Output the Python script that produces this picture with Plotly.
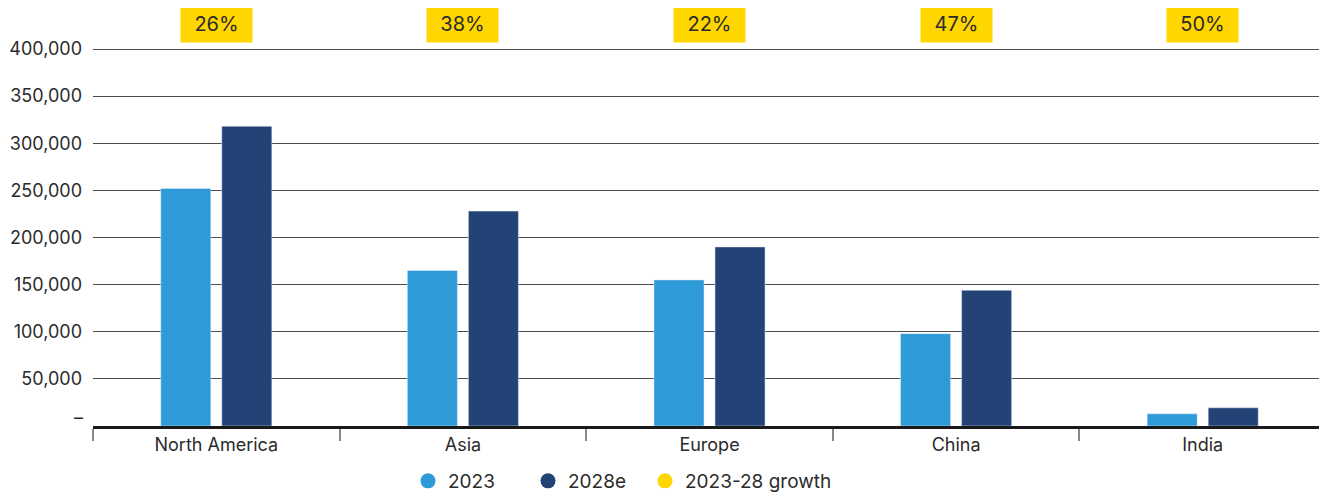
import plotly.graph_objects as go

regions = ["North America", "Asia", "Europe", "China", "India"]
values_2023 = [252000, 165000, 155000, 98000, 12900]
values_2028e = [318000, 228000, 190000, 144000, 19300]
growth_labels = ["26%", "38%", "22%", "47%", "50%"]
y_tick_vals = [50000, 100000, 150000, 200000, 250000, 300000, 350000, 400000]
y_tick_text = ["50,000", "100,000", "150,000", "200,000", "250,000", "300,000", "350,000", "400,000"]

C_LIGHT = "#2E9BD8"
C_DARK = "#234275"
C_YELLOW = "#FFD600"
TXT = "#2b2b2b"
FONT = "Inter"

# page body has an 8px default margin, so the figure is laid out offset by 8px
OFF = 8
W, H = 1327 - OFF, 494 - OFF
PLOT_L = 93 - OFF
PLOT_R = 1326 - OFF
PLOT_T = 46 - OFF
PLOT_B = 426 - OFF
PLOT_W = PLOT_R - PLOT_L
PLOT_H = PLOT_B - PLOT_T
Y_TOP = 400000 * PLOT_H / 377.0

fig = go.Figure()
fig.add_trace(go.Bar(x=regions, y=values_2023, name="2023", marker_color=C_LIGHT,
                     showlegend=False, hoverinfo="skip"))
fig.add_trace(go.Bar(x=regions, y=values_2028e, name="2028e", marker_color=C_DARK,
                     showlegend=False, hoverinfo="skip"))
legend_items = [("2023", C_LIGHT, "legend"), ("2028e", C_DARK, "legend2"),
                ("2023-28 growth", C_YELLOW, "legend3")]
for nm, col, lg in legend_items:
    fig.add_trace(go.Scatter(x=[None], y=[None], mode="markers", name=nm, legend=lg,
                             marker=dict(color=col, size=15, symbol="circle")))

for r, g in zip(regions, growth_labels):
    fig.add_annotation(x=r, xref="x", y=(426 - 24) / PLOT_H, yref="paper", text=g,
                       showarrow=False, xanchor="center", yanchor="middle",
                       bgcolor=C_YELLOW, width=71, height=36, borderpad=0,
                       font=dict(family=FONT, size=20, color=TXT))

fig.add_annotation(x=0, xref="paper", y=0, yref="y", text="–", showarrow=False,
                   xanchor="right", yanchor="middle", xshift=-8, yshift=9,
                   font=dict(family=FONT, size=18, color=TXT))

def legend_cfg(circle_px):
    return dict(orientation="h", x=(circle_px - 22 - 93) / PLOT_W, xanchor="left",
                y=(426 - 481) / PLOT_H, yanchor="middle", bgcolor="rgba(0,0,0,0)",
                font=dict(family=FONT, size=19, color=TXT), itemclick=False)

fig.update_layout(
    width=W, height=H,
    margin=dict(l=PLOT_L, r=W - PLOT_R, t=PLOT_T, b=H - PLOT_B, autoexpand=False),
    paper_bgcolor="white", plot_bgcolor="white",
    barmode="group", bargap=0.505, bargroupgap=0.18,
    font=dict(family=FONT, size=18, color=TXT),
    legend=legend_cfg(430), legend2=legend_cfg(550), legend3=legend_cfg(667),
    xaxis=dict(showline=True, linecolor="#1a1a1a", linewidth=3, ticks="outside",
               tickson="boundaries", ticklen=12, tickcolor="#888888", tickwidth=1.5,
               tickfont=dict(family=FONT, size=18, color=TXT), showgrid=False,
               automargin=False),
    yaxis=dict(range=[0, Y_TOP], tickvals=y_tick_vals, ticktext=y_tick_text,
               showgrid=True, gridcolor="#4d4d4d", gridwidth=1.3, zeroline=False,
               ticks="", ticklabelstandoff=10, automargin=False,
               tickfont=dict(family=FONT, size=18, color=TXT)),
)

fig.write_html("out.html")
